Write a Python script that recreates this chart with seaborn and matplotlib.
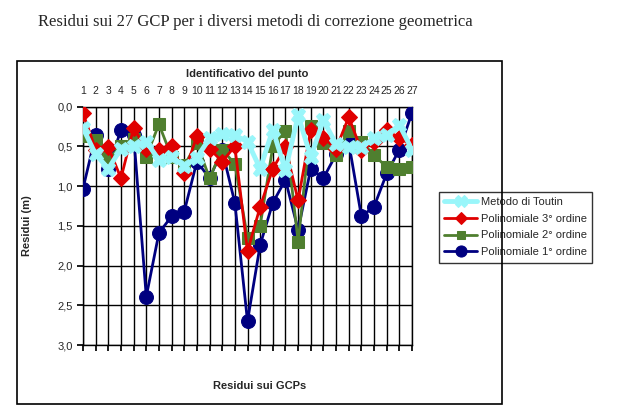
import numpy as np
import pandas as pd
import matplotlib
matplotlib.use("Agg")
import matplotlib.pyplot as plt
import seaborn as sns
from matplotlib.patches import Rectangle
from matplotlib.ticker import FuncFormatter

points = list(range(1, 28))
poly1 = [1.03, 0.36, 0.78, 0.29, 0.35, 2.39, 1.59, 1.38, 1.32, 0.69, 0.90, 0.55, 1.21, 2.70,
         1.74, 1.21, 0.92, 1.55, 0.78, 0.90, 0.60, 0.45, 1.38, 1.26, 0.84, 0.54, 0.08]
poly2 = [0.37, 0.42, 0.66, 0.50, 0.41, 0.63, 0.22, 0.63, 0.74, 0.46, 0.90, 0.54, 0.72, 1.65,
         1.50, 0.50, 0.30, 1.70, 0.24, 0.46, 0.61, 0.30, 0.44, 0.61, 0.76, 0.78, 0.76]
poly3 = [0.08, 0.54, 0.51, 0.90, 0.27, 0.53, 0.55, 0.50, 0.84, 0.37, 0.53, 0.69, 0.50, 1.82,
         1.26, 0.78, 0.51, 1.18, 0.29, 0.39, 0.53, 0.13, 0.55, 0.44, 0.29, 0.40, 0.48]
toutin = [0.27, 0.60, 0.78, 0.53, 0.50, 0.44, 0.67, 0.63, 0.75, 0.64, 0.40, 0.34, 0.36, 0.44,
          0.78, 0.29, 0.80, 0.11, 0.63, 0.17, 0.47, 0.51, 0.51, 0.40, 0.36, 0.23, 0.54]

names = ["Polinomiale 1° ordine", "Polinomiale 2° ordine", "Polinomiale 3° ordine", "Metodo di Toutin"]
values = [poly1, poly2, poly3, toutin]

sns.set_theme(style="white")
plt.rcParams['font.family'] = ['Liberation Sans', 'DejaVu Sans']

fig = plt.figure(figsize=(6.21, 4.19), dpi=100)
ax = fig.add_axes([83/621, 1-345/419, (412-83)/621, (345-106.7)/419])

styles = {
    "Polinomiale 1° ordine": dict(color="#000080", marker="o", markersize=10, linewidth=2.0, zorder=3),
    "Polinomiale 2° ordine": dict(color="#4f7f2f", marker="s", markersize=8, linewidth=2.0, zorder=4),
    "Polinomiale 3° ordine": dict(color="#e00000", marker="D", markersize=8, linewidth=2.0, zorder=5),
    "Metodo di Toutin": dict(color="#99f6fa", marker="X", markersize=10.5, linewidth=3.5, zorder=6),
}

for name, vals in zip(names, values):
    df = pd.DataFrame({"Punto": points, "Residuo": vals})
    st = styles[name]
    sns.lineplot(data=df, x="Punto", y="Residuo", ax=ax, color=st["color"], marker=st["marker"],
                 markersize=st["markersize"], linewidth=st["linewidth"], markeredgecolor=st["color"],
                 zorder=st["zorder"], label=name)

ax.set_xlim(1, 27)
ax.set_ylim(3.0, 0.0)
ax.set_xticks(points)
ax.set_yticks(np.arange(0, 3.01, 0.5))
ax.yaxis.set_major_formatter(FuncFormatter(lambda v, p: f"{v:.1f}".replace(".", ",")))
ax.grid(True, color="black", linewidth=1.0)
for s in ax.spines.values():
    s.set_color("black")
    s.set_linewidth(1.0)
ax.xaxis.tick_top()
ax.xaxis.set_label_position("top")
ax.tick_params(axis="x", which="both", top=False, bottom=True, direction="out", length=4,
               labeltop=True, labelbottom=False, labelsize=7.5, pad=4, color="black")
ax.tick_params(axis="y", left=True, direction="out", length=4, labelsize=8, color="black")
ax.set_xlabel("Identificativo del punto", fontsize=8, fontweight="bold", labelpad=6)
ax.set_ylabel("Residui (m)", fontsize=8, fontweight="bold", labelpad=18)

h, l = ax.get_legend_handles_labels()
order = ["Metodo di Toutin", "Polinomiale 3° ordine", "Polinomiale 2° ordine", "Polinomiale 1° ordine"]
hd = dict(zip(l, h))
leg = ax.legend([hd[o] for o in order], order, loc="upper left",
                bbox_to_anchor=(433/621, 1-186/419), bbox_transform=fig.transFigure,
                fontsize=8, frameon=True, fancybox=False, edgecolor="black",
                handlelength=3.0, borderpad=0.5, labelspacing=0.6, handletextpad=0.3,
                markerscale=0.8)
leg.get_frame().set_linewidth(1.0)

fig.text(255/621, 1-22/419, "Residui sui 27 GCP per i diversi metodi di correzione geometrica",
         ha="center", va="center", fontsize=12, family=["Liberation Serif", "DejaVu Serif"])
fig.text(260/621, 1-386/419, "Residui sui GCPs", ha="center", va="center",
         fontsize=8, fontweight="bold")
fig.patches.append(Rectangle((17/621, 1-404/419), (502-17)/621, (404-61)/419,
                             transform=fig.transFigure, fill=False, edgecolor="black",
                             linewidth=1.2))

fig.savefig("out.png", dpi=100, facecolor="white")
